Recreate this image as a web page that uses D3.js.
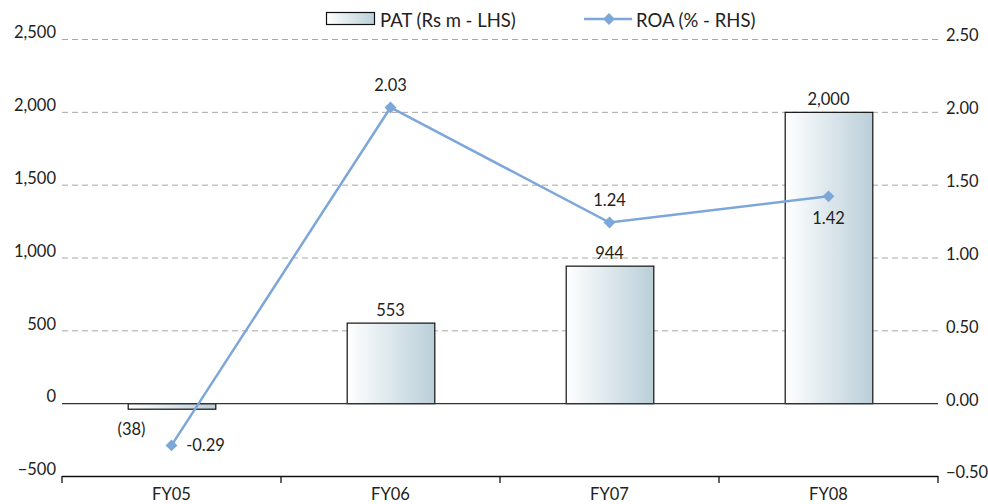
<!DOCTYPE html>
<html><head><meta charset="utf-8">
<script src="https://cdn.jsdelivr.net/npm/d3@7"></script>
<style>
body{margin:0;background:#fff;}
svg text{font-family:Lato,"Open Sans",sans-serif;fill:#222;}
</style></head>
<body><svg id="c" width="988" height="504"></svg>
<script>
const categories = ["FY05","FY06","FY07","FY08"];
const patValues = [-38, 553, 944, 2000];
const patLabels = ["(38)","553","944","2,000"];
const roaValues = [-0.29, 2.03, 1.24, 1.42];
const roaLabels = ["-0.29","2.03","1.24","1.42"];
const leftTicks = [-500,0,500,1000,1500,2000,2500];
const rightTicks = [-0.5,0,0.5,1,1.5,2,2.5];

const svg = d3.select("#c");
const x0 = 62, x1 = 938, yTop = 39, yBot = 476;

const x = d3.scaleBand().domain(categories).range([x0,x1]).paddingInner(0.6).paddingOuter(0.3);
const yL = d3.scaleLinear().domain([-500,2500]).range([yBot,yTop]);
const yR = d3.scaleLinear().domain([-0.5,2.5]).range([yBot,yTop]);

const defs = svg.append("defs");
const g = defs.append("linearGradient").attr("id","bg").attr("x1","0").attr("x2","1").attr("y1","0").attr("y2","0");
g.append("stop").attr("offset","0").attr("stop-color","#ffffff");
g.append("stop").attr("offset","1").attr("stop-color","#bacfd9");

// gridlines
svg.append("g").selectAll("line").data(leftTicks.filter(d=>d!==0 && d!==-500)).join("line")
  .attr("x1",x0).attr("x2",x1).attr("y1",d=>yL(d)+0.5).attr("y2",d=>yL(d)+0.5)
  .attr("stroke","#a6a6a6").attr("stroke-width",1).attr("stroke-dasharray","6,4");

// left labels
svg.append("g").selectAll("text").data(leftTicks).join("text")
  .attr("x",56).attr("y",d=>yL(d)).attr("dy","-0.05em")
  .attr("text-anchor","end").attr("font-size",16.5)
  .text(d=>d3.format(",")(d));
// right labels
svg.append("g").selectAll("text").data(rightTicks).join("text")
  .attr("x",946).attr("y",d=>yR(d)).attr("dy","0.15em")
  .attr("text-anchor","start").attr("font-size",16.5)
  .text(d=>d3.format(".2f")(d));

// bars
svg.append("g").selectAll("rect").data(patValues).join("rect")
  .attr("x",(d,i)=>x(categories[i])+0.5)
  .attr("y",d=>Math.min(yL(d),yL(0))+0.5)
  .attr("width",x.bandwidth())
  .attr("height",d=>Math.abs(yL(d)-yL(0)))
  .attr("fill","url(#bg)").attr("stroke","#111").attr("stroke-width",1.2);

// zero line
svg.append("line").attr("x1",x0).attr("x2",x1).attr("y1",yL(0)+0.5).attr("y2",yL(0)+0.5)
  .attr("stroke","#333").attr("stroke-width",1.3);

// bottom axis
const xa = d3.scalePoint().domain(d3.range(5)).range([x0,x1]);
svg.append("line").attr("x1",x0).attr("x2",x1).attr("y1",yBot+0.5).attr("y2",yBot+0.5)
  .attr("stroke","#111").attr("stroke-width",1.3);
svg.append("g").selectAll("line").data(d3.range(5)).join("line")
  .attr("x1",d=>xa(d)).attr("x2",d=>xa(d)).attr("y1",yBot).attr("y2",yBot+7)
  .attr("stroke","#111").attr("stroke-width",1.3);
svg.append("g").selectAll("text").data(categories).join("text")
  .attr("x",d=>x(d)+x.bandwidth()/2).attr("y",500)
  .attr("text-anchor","middle").attr("font-size",16.5).text(d=>d);

// bar labels
const cx = c=>x(c)+x.bandwidth()/2;
svg.append("g").selectAll("text").data(patValues).join("text")
  .attr("x",(d,i)=>cx(categories[i]) + (d>=0 ? 0 : -40))
  .attr("y",d=>d>=0 ? yL(d)-7 : yL(d)+26)
  .attr("text-anchor","middle").attr("font-size",16.5)
  .text((d,i)=>patLabels[i]);

// ROA line
const line = d3.line().x((d,i)=>cx(categories[i])).y(d=>yR(d));
svg.append("path").datum(roaValues).attr("d",line).attr("fill","none")
  .attr("stroke","#7da7d9").attr("stroke-width",2.5);
const diamond = d3.symbol().type(d3.symbolDiamond2).size(90);
svg.append("g").selectAll("path").data(roaValues).join("path")
  .attr("d",diamond)
  .attr("transform",(d,i)=>`translate(${cx(categories[i])},${yR(d)})`)
  .attr("fill","#7da7d9");

// ROA labels
const roaOff = [[34,6],[0,-16],[0,-17],[0,28]];
svg.append("g").selectAll("text").data(roaValues).join("text")
  .attr("x",(d,i)=>cx(categories[i])+roaOff[i][0])
  .attr("y",(d,i)=>yR(d)+roaOff[i][1])
  .attr("text-anchor","middle").attr("font-size",16.5)
  .text((d,i)=>roaLabels[i]);

// legend
const lg = svg.append("g");
lg.append("rect").attr("x",326.5).attr("y",12.5).attr("width",48).attr("height",12)
  .attr("fill","url(#bg)").attr("stroke","#111").attr("stroke-width",1.2);
lg.append("text").attr("x",380).attr("y",27).attr("font-size",18.5).text("PAT (Rs m - LHS)");
lg.append("line").attr("x1",584).attr("x2",632).attr("y1",19).attr("y2",19)
  .attr("stroke","#7da7d9").attr("stroke-width",2.5);
lg.append("path").attr("d",diamond).attr("transform","translate(609,19)").attr("fill","#7da7d9");
lg.append("text").attr("x",636).attr("y",27).attr("font-size",18.5).text("ROA (% - RHS)");
</script></body></html>
